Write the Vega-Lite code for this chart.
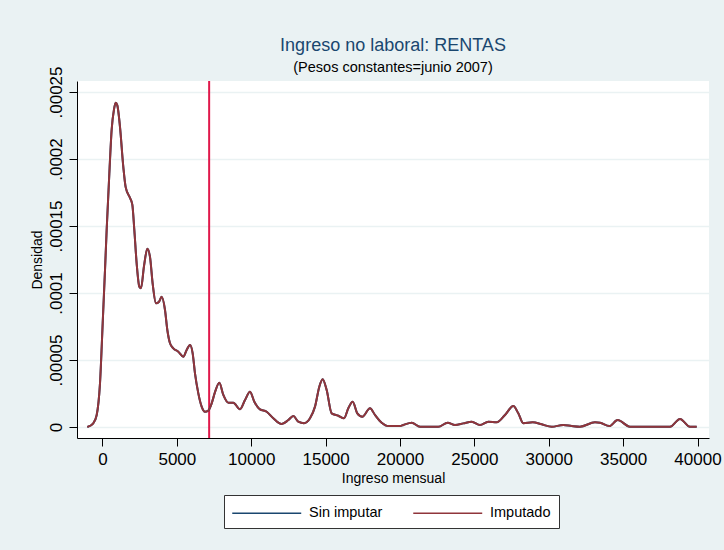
{
  "$schema": "https://vega.github.io/schema/vega-lite/v6.json",
  "width": 632,
  "height": 357,
  "autosize": {"type": "none"},
  "padding": {"left": 77, "top": 81, "right": 15, "bottom": 112},
  "background": "#EAF2F3",
  "title": {
    "text": "Ingreso no laboral: RENTAS",
    "subtitle": "(Pesos constantes=junio 2007)",
    "anchor": "middle",
    "font": "Liberation Sans",
    "fontSize": 18,
    "fontWeight": "normal",
    "color": "#1a476f",
    "subtitleFont": "Liberation Sans",
    "subtitleFontSize": 14.5,
    "subtitleColor": "#000000",
    "subtitlePadding": 6,
    "offset": -9
  },
  "config": {
    "view": {"fill": "white", "stroke": null},
    "font": "Liberation Sans",
    "axis": {
      "domainColor": "#000000",
      "domainWidth": 1,
      "tickColor": "#000000",
      "tickSize": 8,
      "tickWidth": 1,
      "labelColor": "#000000",
      "labelFont": "Liberation Sans",
      "labelFontSize": 17,
      "titleFont": "Liberation Sans",
      "titleFontSize": 14,
      "titleFontWeight": "normal",
      "titleColor": "#000000",
      "gridColor": "#EAF2F3",
      "gridWidth": 1.5
    }
  },
  "datasets": {
    "dens": [
      {"ingreso": -1020, "sin_imputar": 0, "imputado": 0},
      {"ingreso": -618, "sin_imputar": 0.0000028, "imputado": 0.0000028},
      {"ingreso": -390, "sin_imputar": 0.000009, "imputado": 0.000009},
      {"ingreso": -168, "sin_imputar": 0.0000326, "imputado": 0.0000326},
      {"ingreso": 13, "sin_imputar": 0.0000774, "imputado": 0.0000774},
      {"ingreso": 168, "sin_imputar": 0.000117, "imputado": 0.000117},
      {"ingreso": 280, "sin_imputar": 0.000147, "imputado": 0.000147},
      {"ingreso": 459, "sin_imputar": 0.000189, "imputado": 0.000189},
      {"ingreso": 617, "sin_imputar": 0.000222, "imputado": 0.000222},
      {"ingreso": 773, "sin_imputar": 0.000237, "imputado": 0.000237},
      {"ingreso": 885, "sin_imputar": 0.000242, "imputado": 0.000242},
      {"ingreso": 997, "sin_imputar": 0.00024, "imputado": 0.00024},
      {"ingreso": 1176, "sin_imputar": 0.000224, "imputado": 0.000224},
      {"ingreso": 1400, "sin_imputar": 0.000194, "imputado": 0.000194},
      {"ingreso": 1557, "sin_imputar": 0.000179, "imputado": 0.000179},
      {"ingreso": 1849, "sin_imputar": 0.000171, "imputado": 0.000171},
      {"ingreso": 2005, "sin_imputar": 0.000166, "imputado": 0.000166},
      {"ingreso": 2140, "sin_imputar": 0.000147, "imputado": 0.000147},
      {"ingreso": 2297, "sin_imputar": 0.000122, "imputado": 0.000122},
      {"ingreso": 2476, "sin_imputar": 0.0001047, "imputado": 0.0001047},
      {"ingreso": 2588, "sin_imputar": 0.0001035, "imputado": 0.0001035},
      {"ingreso": 2790, "sin_imputar": 0.00012, "imputado": 0.00012},
      {"ingreso": 3013, "sin_imputar": 0.000133, "imputado": 0.000133},
      {"ingreso": 3193, "sin_imputar": 0.000127, "imputado": 0.000127},
      {"ingreso": 3372, "sin_imputar": 0.000107, "imputado": 0.000107},
      {"ingreso": 3597, "sin_imputar": 0.0000923, "imputado": 0.0000923},
      {"ingreso": 3798, "sin_imputar": 0.0000935, "imputado": 0.0000935},
      {"ingreso": 3978, "sin_imputar": 0.0000972, "imputado": 0.0000972},
      {"ingreso": 4202, "sin_imputar": 0.0000873, "imputado": 0.0000873},
      {"ingreso": 4359, "sin_imputar": 0.0000724, "imputado": 0.0000724},
      {"ingreso": 4538, "sin_imputar": 0.0000625, "imputado": 0.0000625},
      {"ingreso": 4762, "sin_imputar": 0.0000587, "imputado": 0.0000587},
      {"ingreso": 5098, "sin_imputar": 0.0000562, "imputado": 0.0000562},
      {"ingreso": 5434, "sin_imputar": 0.0000525, "imputado": 0.0000525},
      {"ingreso": 5658, "sin_imputar": 0.0000575, "imputado": 0.0000575},
      {"ingreso": 5882, "sin_imputar": 0.0000612, "imputado": 0.0000612},
      {"ingreso": 6062, "sin_imputar": 0.000055, "imputado": 0.000055},
      {"ingreso": 6218, "sin_imputar": 0.00004, "imputado": 0.00004},
      {"ingreso": 6442, "sin_imputar": 0.0000251, "imputado": 0.0000251},
      {"ingreso": 6666, "sin_imputar": 0.0000152, "imputado": 0.0000152},
      {"ingreso": 6891, "sin_imputar": 0.0000114, "imputado": 0.0000114},
      {"ingreso": 7113, "sin_imputar": 0.0000122, "imputado": 0.0000122},
      {"ingreso": 7341, "sin_imputar": 0.0000177, "imputado": 0.0000177},
      {"ingreso": 7563, "sin_imputar": 0.000026, "imputado": 0.000026},
      {"ingreso": 7854, "sin_imputar": 0.000033, "imputado": 0.000033},
      {"ingreso": 8123, "sin_imputar": 0.0000239, "imputado": 0.0000239},
      {"ingreso": 8459, "sin_imputar": 0.0000181, "imputado": 0.0000181},
      {"ingreso": 8795, "sin_imputar": 0.0000181, "imputado": 0.0000181},
      {"ingreso": 9244, "sin_imputar": 0.0000132, "imputado": 0.0000132},
      {"ingreso": 9580, "sin_imputar": 0.0000201, "imputado": 0.0000201},
      {"ingreso": 9916, "sin_imputar": 0.0000263, "imputado": 0.0000263},
      {"ingreso": 10207, "sin_imputar": 0.0000189, "imputado": 0.0000189},
      {"ingreso": 10588, "sin_imputar": 0.0000132, "imputado": 0.0000132},
      {"ingreso": 11036, "sin_imputar": 0.0000114, "imputado": 0.0000114},
      {"ingreso": 11484, "sin_imputar": 0.0000065, "imputado": 0.0000065},
      {"ingreso": 12045, "sin_imputar": 0.0000022, "imputado": 0.0000022},
      {"ingreso": 12493, "sin_imputar": 0.0000052, "imputado": 0.0000052},
      {"ingreso": 12829, "sin_imputar": 0.0000082, "imputado": 0.0000082},
      {"ingreso": 13165, "sin_imputar": 0.000004, "imputado": 0.000004},
      {"ingreso": 13546, "sin_imputar": 0.0000028, "imputado": 0.0000028},
      {"ingreso": 13950, "sin_imputar": 0.0000065, "imputado": 0.0000065},
      {"ingreso": 14286, "sin_imputar": 0.0000152, "imputado": 0.0000152},
      {"ingreso": 14577, "sin_imputar": 0.0000301, "imputado": 0.0000301},
      {"ingreso": 14801, "sin_imputar": 0.0000356, "imputado": 0.0000356},
      {"ingreso": 15070, "sin_imputar": 0.0000276, "imputado": 0.0000276},
      {"ingreso": 15406, "sin_imputar": 0.0000102, "imputado": 0.0000102},
      {"ingreso": 15854, "sin_imputar": 0.0000084, "imputado": 0.0000084},
      {"ingreso": 16235, "sin_imputar": 0.0000065, "imputado": 0.0000065},
      {"ingreso": 16526, "sin_imputar": 0.000014, "imputado": 0.000014},
      {"ingreso": 16818, "sin_imputar": 0.0000189, "imputado": 0.0000189},
      {"ingreso": 17132, "sin_imputar": 0.0000102, "imputado": 0.0000102},
      {"ingreso": 17468, "sin_imputar": 0.0000077, "imputado": 0.0000077},
      {"ingreso": 17983, "sin_imputar": 0.000014, "imputado": 0.000014},
      {"ingreso": 18319, "sin_imputar": 0.000009, "imputado": 0.000009},
      {"ingreso": 18767, "sin_imputar": 0.0000032, "imputado": 0.0000032},
      {"ingreso": 19216, "sin_imputar": 0.0000007, "imputado": 0.0000007},
      {"ingreso": 20000, "sin_imputar": 0.0000007, "imputado": 0.0000007},
      {"ingreso": 20224, "sin_imputar": 0.0000015, "imputado": 0.0000015},
      {"ingreso": 20787, "sin_imputar": 0.0000032, "imputado": 0.0000032},
      {"ingreso": 21345, "sin_imputar": 0.0000002, "imputado": 0.0000002},
      {"ingreso": 22575, "sin_imputar": 0.0000002, "imputado": 0.0000002},
      {"ingreso": 23206, "sin_imputar": 0.0000032, "imputado": 0.0000032},
      {"ingreso": 23697, "sin_imputar": 0.0000015, "imputado": 0.0000015},
      {"ingreso": 24255, "sin_imputar": 0.0000027, "imputado": 0.0000027},
      {"ingreso": 24820, "sin_imputar": 0.000004, "imputado": 0.000004},
      {"ingreso": 25378, "sin_imputar": 0.0000015, "imputado": 0.0000015},
      {"ingreso": 25938, "sin_imputar": 0.000004, "imputado": 0.000004},
      {"ingreso": 26500, "sin_imputar": 0.0000035, "imputado": 0.0000035},
      {"ingreso": 27059, "sin_imputar": 0.000009, "imputado": 0.000009},
      {"ingreso": 27617, "sin_imputar": 0.0000157, "imputado": 0.0000157},
      {"ingreso": 27953, "sin_imputar": 0.0000102, "imputado": 0.0000102},
      {"ingreso": 28289, "sin_imputar": 0.0000028, "imputado": 0.0000028},
      {"ingreso": 28921, "sin_imputar": 0.0000035, "imputado": 0.0000035},
      {"ingreso": 29526, "sin_imputar": 0.000002, "imputado": 0.000002},
      {"ingreso": 30198, "sin_imputar": 0.0000002, "imputado": 0.0000002},
      {"ingreso": 30978, "sin_imputar": 0.0000015, "imputado": 0.0000015},
      {"ingreso": 31543, "sin_imputar": 0.0000007, "imputado": 0.0000007},
      {"ingreso": 32101, "sin_imputar": 0.0000002, "imputado": 0.0000002},
      {"ingreso": 33109, "sin_imputar": 0.0000035, "imputado": 0.0000035},
      {"ingreso": 33445, "sin_imputar": 0.0000032, "imputado": 0.0000032},
      {"ingreso": 34070, "sin_imputar": 0.0000007, "imputado": 0.0000007},
      {"ingreso": 34633, "sin_imputar": 0.0000052, "imputado": 0.0000052},
      {"ingreso": 35462, "sin_imputar": 0.0000002, "imputado": 0.0000002},
      {"ingreso": 38151, "sin_imputar": 0.0000002, "imputado": 0.0000002},
      {"ingreso": 38824, "sin_imputar": 0.000006, "imputado": 0.000006},
      {"ingreso": 39496, "sin_imputar": 0.0000002, "imputado": 0.0000002},
      {"ingreso": 39946, "sin_imputar": 0.0000002, "imputado": 0.0000002}
    ]
  },
  "layer": [
    {
      "data": {"values": [{"ingreso": 7170}]},
      "mark": {"type": "rule", "color": "#e0184a", "strokeWidth": 2},
      "encoding": {
        "x": {"field": "ingreso", "type": "quantitative"}
      }
    },
    {
      "data": {"name": "dens"},
      "mark": {"type": "line", "strokeWidth": 2, "interpolate": "monotone"},
      "encoding": {
        "x": {
          "field": "ingreso",
          "type": "quantitative",
          "scale": {"domain": [-1714, 40773], "nice": false, "zero": false},
          "axis": {
            "values": [0, 5000, 10000, 15000, 20000, 25000, 30000, 35000, 40000],
            "format": "d",
            "grid": false,
            "title": "Ingreso mensual",
            "labelPadding": 5,
            "labelFlush": false,
            "labelOverlap": false,
            "labelBound": false,
            "titleX": 316,
            "titleY": 44,
            "titleAlign": "center",
            "titleBaseline": "alphabetic"
          }
        },
        "y": {
          "field": "sin_imputar",
          "type": "quantitative",
          "scale": {"domain": [-0.0000082, 0.0002582], "nice": false, "zero": false},
          "axis": {
            "values": [0, 0.00005, 0.0001, 0.00015, 0.0002, 0.00025],
            "labelExpr": "datum.value == 0 ? '0' : replace(format(datum.value, '.5~f'), '0.', '.')",
            "labelAngle": -90,
            "labelAlign": "center",
            "labelBaseline": "alphabetic",
            "labelPadding": 8,
            "labelOverlap": false,
            "grid": true,
            "title": "Densidad",
            "titleAngle": -90,
            "titleX": -40,
            "titleY": 178.5,
            "titleAlign": "center",
            "titleBaseline": "middle"
          }
        },
        "color": {
          "datum": "Sin imputar",
          "type": "nominal",
          "scale": {"domain": ["Sin imputar", "Imputado"], "range": ["#1a476f", "#90353b"]},
          "legend": {
            "orient": "none",
            "legendX": 147,
            "legendY": 414,
            "direction": "horizontal",
            "columns": 2,
            "title": null,
            "symbolType": "M-1.083,0H6.58",
            "symbolSize": 324,
            "symbolStrokeWidth": 1.5,
            "labelFont": "Liberation Sans",
            "labelFontSize": 14.5,
            "labelColor": "#000000",
            "labelOffset": 57,
            "columnPadding": 27,
            "padding": 8,
            "strokeColor": "#333333",
            "fillColor": "white"
          }
        }
      }
    },
    {
      "data": {"name": "dens"},
      "mark": {"type": "line", "strokeWidth": 2, "interpolate": "monotone"},
      "encoding": {
        "x": {"field": "ingreso", "type": "quantitative"},
        "y": {"field": "imputado", "type": "quantitative"},
        "color": {"datum": "Imputado", "type": "nominal"}
      }
    }
  ]
}
